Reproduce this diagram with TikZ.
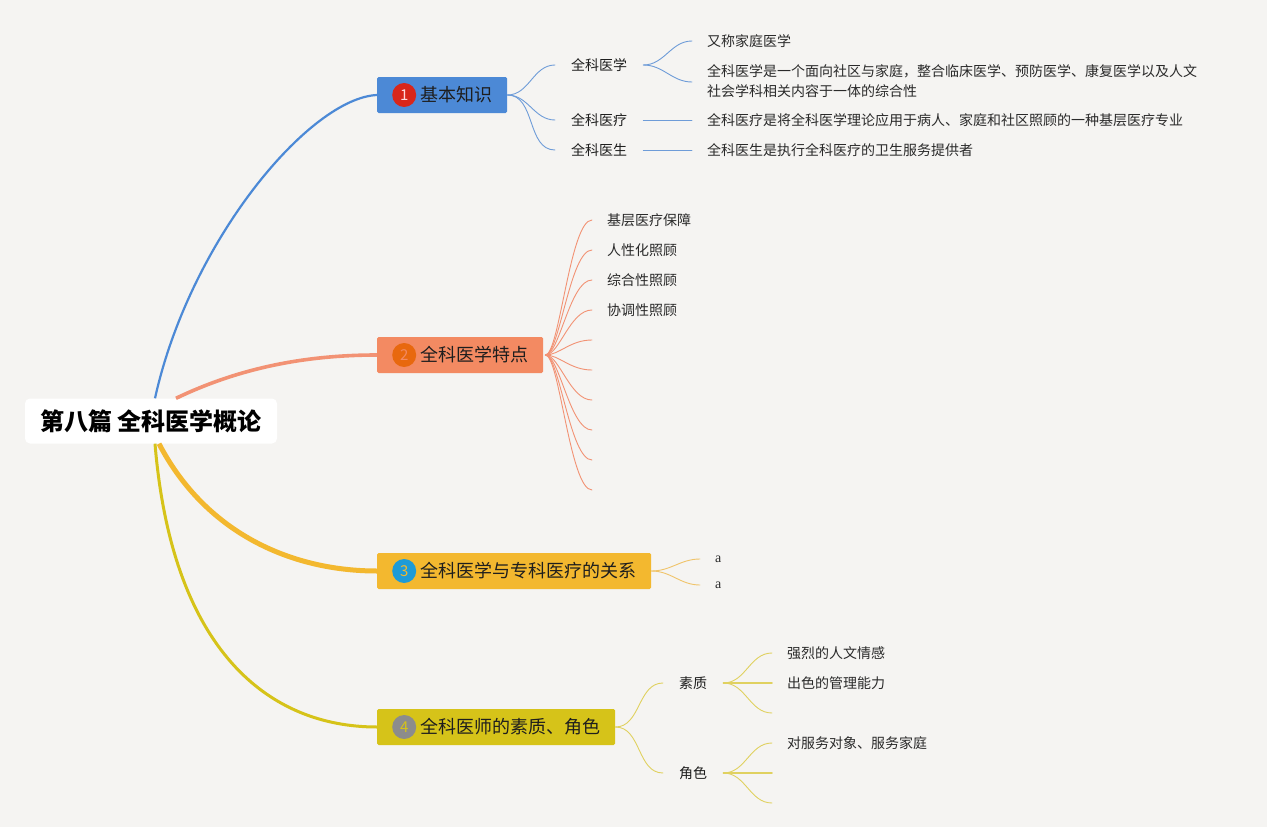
\documentclass[tikz,border=0pt]{standalone}
\usepackage{fontspec}
\setmainfont{Noto Sans CJK SC}
\newfontfamily\serifa{Liberation Serif}
\usetikzlibrary{positioning}

\definecolor{bgcol}{HTML}{F5F4F2}
\definecolor{txtdark}{HTML}{1E1E1E}
\definecolor{leaftxt}{HTML}{2A2A2A}
\definecolor{bluebox}{HTML}{4C89D6}
\definecolor{blueline}{HTML}{6E9CD8}
\definecolor{badgered}{HTML}{D8261A}
\definecolor{orangebox}{HTML}{F38A62}
\definecolor{orangeline}{HTML}{F29274}
\definecolor{badgeorange}{HTML}{E8680E}
\definecolor{yellowbox}{HTML}{F3B82F}
\definecolor{yellowline}{HTML}{F0C46A}
\definecolor{badgeblue}{HTML}{1E9BD7}
\definecolor{olivebox}{HTML}{D6C319}
\definecolor{oliveline}{HTML}{E0D160}
\definecolor{badgegray}{HTML}{8C8C8C}

\tikzset{
  root/.style={fill=white, rounded corners=5pt, minimum width=252pt, minimum height=45pt,
    inner sep=0pt, text=black, font=\fontsize{24pt}{27pt}\selectfont\bfseries},
  topic/.style={anchor=west, rounded corners=1.5pt, minimum height=36pt, inner xsep=15pt,
    inner ysep=0pt, text=txtdark, font=\fontsize{18pt}{22pt}\selectfont},
  badge/.style={circle, anchor=west, minimum size=24pt, inner sep=0pt,
    font=\fontsize{15pt}{15pt}\selectfont},
  sub/.style={anchor=west, inner xsep=16pt, inner ysep=2pt, text=txtdark,
    font=\fontsize{14pt}{20pt}\selectfont},
  leaf/.style={anchor=west, inner xsep=15pt, inner ysep=2pt, text=leaftxt, align=left,
    font=\fontsize{14pt}{20pt}\selectfont},
  fan/.style={line width=0.9pt, line cap=round},
}

\begin{document}
\begin{tikzpicture}[x=1pt, y=-1pt]

\fill[bgcol] (0,0) rectangle (1267,827);
\useasboundingbox (0,0) rectangle (1267,827);

% centre and main topics
\node [root] (root) at (151,421) {第八篇 全科医学概论};

\node [topic, fill=bluebox] (b1) at (377,95) {\hspace*{28pt}基本知识};
\node [badge, fill=badgered, text=white!85!red] (n1) at ([xshift=15pt]b1.west) {1};

\node [topic, fill=orangebox] (b2) at (377,355) {\hspace*{28pt}全科医学特点};
\node [badge, fill=badgeorange, text=orangebox] (n2) at ([xshift=15pt]b2.west) {2};

\node [topic, fill=yellowbox] (b3) at (377,571) {\hspace*{28pt}全科医学与专科医疗的关系};
\node [badge, fill=badgeblue, text=yellowbox] (n3) at ([xshift=15pt]b3.west) {3};

\node [topic, fill=olivebox] (b4) at (377,727) {\hspace*{28pt}全科医师的素质、角色};
\node [badge, fill=badgegray, text=olivebox] (n4) at ([xshift=15pt]b4.west) {4};

\draw [line width=2.2pt, bluebox] ([xshift=4pt]root.north) .. controls (190,240) and (310,98) .. (b1.west);
\draw [line width=3.6pt, orangeline] ([xshift=25pt]root.north) .. controls (235,370) and (300,355) .. (b2.west);
\draw [line width=5pt, yellowbox] ([xshift=8pt]root.south) .. controls (205,532) and (290,571) .. (b3.west);
\draw [line width=3pt, olivebox] ([xshift=4pt]root.south) .. controls (172,650) and (268,727) .. (b4.west);

% topic 1
\node [sub] (s11) at (555,65) {全科医学};
\node [sub] (s12) at (555,120) {全科医疗};
\node [sub] (s13) at (555,150) {全科医生};

\node [leaf] (l111) at (692,41) {又称家庭医学};
\node [leaf] (l112) at (692,81) {全科医学是一个面向社区与家庭，整合临床医学、预防医学、康复医学以及人文\\社会学科相关内容于一体的综合性};
\node [leaf] (l121) at (692,120) {全科医疗是将全科医学理论应用于病人、家庭和社区照顾的一种基层医疗专业};
\node [leaf] (l131) at (692,150) {全科医生是执行全科医疗的卫生服务提供者};

\draw [fan, blueline] (b1.east) to[out=0,in=180] (s11.west);
\draw [fan, blueline] (b1.east) to[out=0,in=180] (s12.west);
\draw [fan, blueline] (b1.east) to[out=0,in=180] (s13.west);
\draw [fan, blueline] (s11.east) to[out=0,in=180] (l111.west);
\draw [fan, blueline] (s11.east) to[out=0,in=180] ([yshift=-1pt]l112.west);
\draw [fan, blueline] (s12.east) -- (l121.west);
\draw [fan, blueline] (s13.east) -- (l131.west);

% topic 2
\node [leaf] (l21) at (592,220) {基层医疗保障};
\node [leaf] (l22) at (592,250) {人性化照顾};
\node [leaf] (l23) at (592,280) {综合性照顾};
\node [leaf] (l24) at (592,310) {协调性照顾};
\coordinate (e25) at (592,340);
\coordinate (e26) at (592,370);
\coordinate (e27) at (592,400);
\coordinate (e28) at (592,430);
\coordinate (e29) at (592,460);
\coordinate (e30) at (592,490);

\foreach \t in {l21.west, l22.west, l23.west, l24.west, e25, e26, e27, e28, e29, e30}
  \draw [fan, orangeline] ([xshift=2pt]b2.east) .. controls +(14,0) and +(-22,0) .. (\t);

% topic 3
\node [leaf, font=\fontsize{14pt}{20pt}\serifa] (l31) at (700,559) {a};
\node [leaf, font=\fontsize{14pt}{20pt}\serifa] (l32) at (700,585) {a};
\draw [fan, yellowline] (b3.east) to[out=0,in=180] (l31.west);
\draw [fan, yellowline] (b3.east) to[out=0,in=180] (l32.west);

% topic 4
\node [sub] (s41) at (663,683) {素质};
\node [sub] (s42) at (663,773) {角色};
\draw [fan, oliveline] (b4.east) to[out=0,in=180] (s41.west);
\draw [fan, oliveline] (b4.east) to[out=0,in=180] (s42.west);

\node [leaf] (l411) at (772,653) {强烈的人文情感};
\node [leaf] (l412) at (772,683) {出色的管理能力};
\coordinate (e413) at (772,713);
\node [leaf] (l421) at (772,743) {对服务对象、服务家庭};
\coordinate (e422) at (772,773);
\coordinate (e423) at (772,803);

\draw [fan, oliveline] (s41.east) to[out=0,in=180] (l411.west);
\draw [fan, oliveline, line width=1.6pt] (s41.east) -- (l412.west);
\draw [fan, oliveline] (s41.east) to[out=0,in=180] (e413);
\draw [fan, oliveline] (s42.east) to[out=0,in=180] (l421.west);
\draw [fan, oliveline, line width=1.6pt] (s42.east) -- (e422);
\draw [fan, oliveline] (s42.east) to[out=0,in=180] (e423);

\end{tikzpicture}
\end{document}
